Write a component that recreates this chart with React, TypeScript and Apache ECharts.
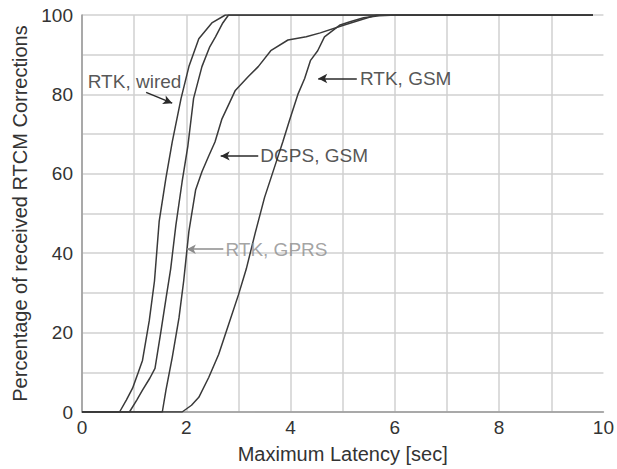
import React, { useEffect, useRef } from "react";
import * as echarts from "echarts";

const rtkWired: [number, number][] = [
  [0, 0], [0.72, 0], [0.85, 3], [0.97, 6], [1.08, 10], [1.16, 13], [1.29, 23], [1.39, 33],
  [1.48, 48], [1.61, 59], [1.73, 68], [1.9, 79], [2.05, 87], [2.24, 94], [2.49, 98], [2.75, 100], [9.8, 100],
];
const rtkGprs: [number, number][] = [
  [0, 0], [0.91, 0], [1.05, 3], [1.16, 5.5], [1.3, 8.5], [1.4, 11], [1.51, 20], [1.61, 28.5],
  [1.7, 36], [1.8, 47], [1.92, 58], [2.03, 67], [2.14, 79], [2.3, 87], [2.45, 92], [2.56, 94.5],
  [2.7, 98], [2.81, 100], [9.8, 100],
];
const dgpsGsm: [number, number][] = [
  [0, 0], [1.54, 0], [1.61, 5.5], [1.73, 13.7], [1.86, 23.7], [1.95, 33], [1.99, 38], [2.05, 45.5],
  [2.18, 56], [2.3, 60.5], [2.43, 64.5], [2.55, 68], [2.68, 73.7], [2.94, 81], [3.19, 84.5],
  [3.38, 87], [3.62, 91], [3.95, 93.7], [4.3, 94.5], [4.57, 95.5], [5.03, 97.5], [5.4, 99],
  [5.65, 100], [9.8, 100],
];
const rtkGsm: [number, number][] = [
  [0, 0], [1.92, 0], [2.1, 1.7], [2.24, 3.7], [2.43, 8.7], [2.62, 14.5], [2.81, 22], [3.0, 29.5],
  [3.15, 36], [3.32, 45], [3.5, 54], [3.7, 62], [3.85, 68], [3.98, 73.5], [4.14, 80], [4.27, 84],
  [4.38, 88.5], [4.52, 91], [4.65, 94.5], [4.8, 96], [4.95, 97.5], [5.14, 98.3], [5.4, 99.3],
  [5.7, 99.8], [6.03, 100], [9.8, 100],
];

const seriesNames = ["RTK, wired", "RTK, GPRS", "DGPS, GSM", "RTK, GSM"];
// label anchor [x, y] in data units, arrow [fromX, fromY, toX, toY]
const labelAnchors: [number, number][] = [[0.11, 83.3], [2.75, 41], [3.42, 64.5], [5.33, 84]];
const arrows: [number, number, number, number][] = [
  [1.23, 80.5, 1.73, 77.8],
  [2.71, 41, 2.01, 41],
  [3.38, 64.5, 2.66, 64.5],
  [5.27, 84, 4.53, 84],
];
const labelColors = ["#2a2a2a", "#8c8c8c", "#2a2a2a", "#2a2a2a"];

const xTicks = [0, 2, 4, 6, 8, 10];
const yTicks = [0, 20, 40, 60, 80, 100];

const FONT = "'Liberation Sans', Arial, sans-serif";
const GRID = "#d0d0d0";

export default function App() {
  const ref = useRef<HTMLDivElement>(null);
  useEffect(() => {
    if (!ref.current) return;
    const chart = echarts.init(ref.current, undefined, { renderer: "svg" });
    const curves = [rtkWired, rtkGprs, dgpsGsm, rtkGsm];
    const lineSeries = curves.map((d, i) => ({
      name: seriesNames[i],
      type: "line",
      data: d,
      showSymbol: false,
      symbol: "none",
      smooth: false,
      lineStyle: { color: "#3a3a3a", width: 1.5 },
      z: 3,
    }));
    chart.setOption({
      animation: false,
      textStyle: { fontFamily: FONT },
      grid: { left: 82, right: 8, top: 15, bottom: 54 },
      xAxis: {
        type: "value",
        min: 0,
        max: 10,
        interval: 1,
        name: "Maximum Latency [sec]",
        nameLocation: "middle",
        nameGap: 32,
        nameTextStyle: { fontSize: 20, color: "#333", fontFamily: FONT },
        axisLine: { show: true, lineStyle: { color: "#999", width: 1.5 } },
        axisTick: { show: false },
        axisLabel: {
          fontSize: 19,
          color: "#333",
          fontFamily: FONT,
          margin: 6,
          formatter: (v: number) => (xTicks.includes(v) ? String(v) : ""),
        },
        splitLine: {
          show: true,
          lineStyle: {
            color: [GRID, GRID, GRID, GRID, GRID, GRID, GRID, GRID, GRID, GRID, "rgba(0,0,0,0)"],
            width: 1.5,
          },
        },
      },
      yAxis: {
        type: "value",
        min: 0,
        max: 100,
        interval: 10,
        name: "Percentage of received RTCM Corrections",
        nameLocation: "middle",
        nameGap: 50,
        nameTextStyle: { fontSize: 20, color: "#333", fontFamily: FONT },
        axisLine: { show: true, lineStyle: { color: "#999", width: 1.5 } },
        axisTick: { show: false },
        axisLabel: {
          fontSize: 19,
          color: "#333",
          fontFamily: FONT,
          margin: 9,
          formatter: (v: number) => (yTicks.includes(v) ? String(v) : ""),
        },
        splitLine: { show: true, lineStyle: { color: GRID, width: 1.5 } },
      },
      series: [
        ...lineSeries,
        {
          type: "scatter",
          symbolSize: 0,
          z: 5,
          data: labelAnchors.map((p, i) => ({
            value: p,
            label: {
              show: true,
              position: "right",
              distance: 0,
              formatter: seriesNames[i],
              fontSize: 19,
              fontFamily: FONT,
              color: labelColors[i],
            },
          })),
          markLine: {
            silent: true,
            symbol: ["none", "arrow"],
            symbolSize: [7, 9],
            label: { show: false },
            data: arrows.map((a, i) => [
              { coord: [a[0], a[1]], lineStyle: { color: labelColors[i], width: 1.5, type: "solid" } },
              { coord: [a[2], a[3]] },
            ]),
          },
        },
      ],
    });
    return () => chart.dispose();
  }, []);
  return <div ref={ref} style={{ position: "fixed", left: 0, top: 0, width: 617, height: 469, background: "#fff" }} />;
}
